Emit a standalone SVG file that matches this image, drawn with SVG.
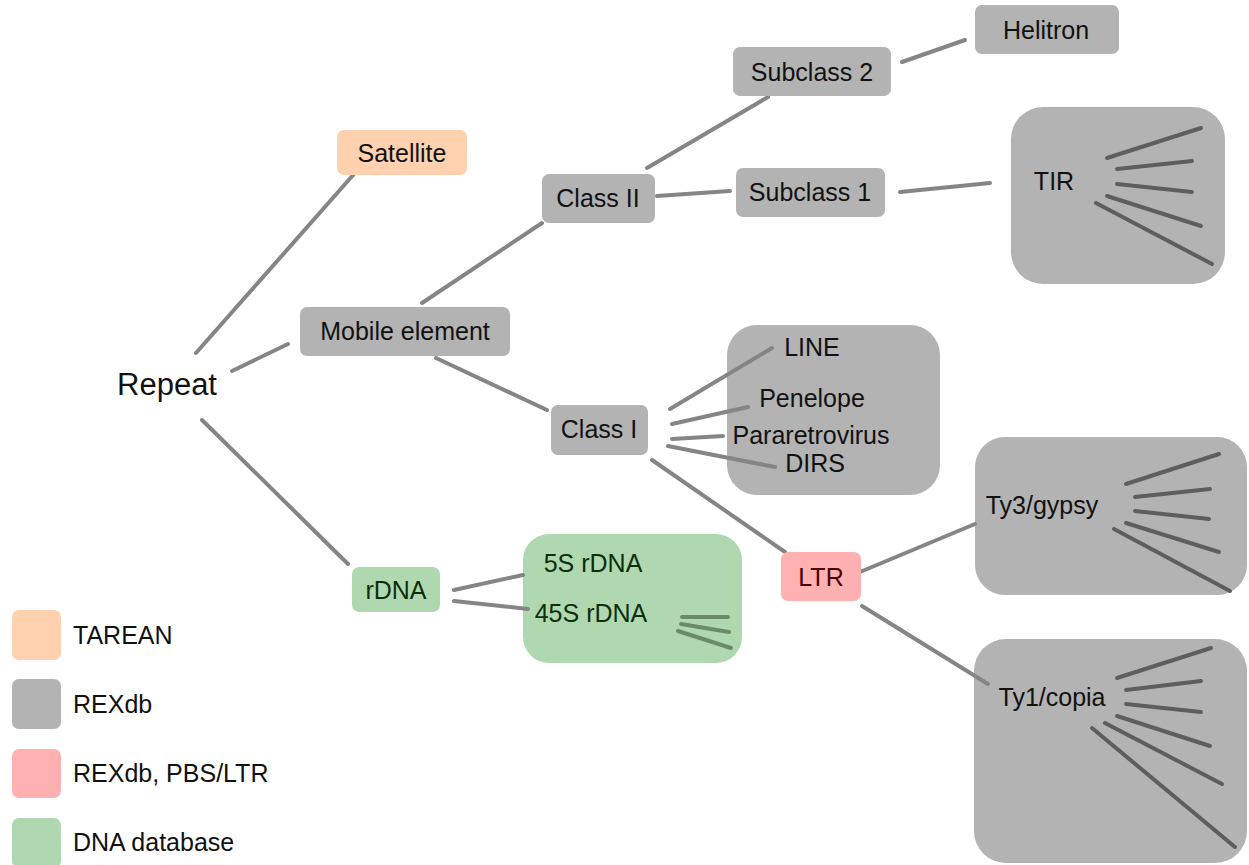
<svg xmlns="http://www.w3.org/2000/svg" width="1249" height="865" viewBox="0 0 1249 865">
<style>
text{font-family:"Liberation Sans",Arial,sans-serif;font-size:25px;fill:#111;text-anchor:middle;dominant-baseline:central}
.grey{fill:#b3b3b3}
.peach{fill:#ffd1ae}
.pink{fill:#ffb0b0}
.green{fill:#b0d8b0}
.gt{fill:#0c2e0c}
.rt{fill:#4a0000}
.lt{text-anchor:start}
#connectors line{stroke:#858585;stroke-width:4;stroke-linecap:round}
.fan line{stroke:#5e5e5e;stroke-width:4;stroke-linecap:round}
</style>
<rect width="1249" height="865" fill="#fff"/>

<g id="tir">
<rect class="grey" x="1011" y="107" width="214" height="177" rx="32"/>
<text x="1054" y="181">TIR</text>
<g class="fan">
<line x1="1107" y1="158" x2="1201" y2="128"/>
<line x1="1117" y1="169" x2="1192" y2="161"/>
<line x1="1117" y1="184" x2="1192" y2="192"/>
<line x1="1107" y1="196" x2="1201" y2="226"/>
<line x1="1096" y1="203" x2="1212" y2="264"/>
</g>
</g>
<g id="classI_group">
<rect class="grey" x="727" y="325" width="213" height="170" rx="30"/>
<text x="812" y="347">LINE</text>
<text x="812" y="398">Penelope</text>
<text x="811" y="435">Pararetrovirus</text>
<text x="815" y="463">DIRS</text>
</g>
<g id="ty3">
<rect class="grey" x="975" y="437" width="272" height="158" rx="30"/>
<text x="1042" y="505">Ty3/gypsy</text>
<g class="fan">
<line x1="1126" y1="484" x2="1219" y2="454"/>
<line x1="1135" y1="497" x2="1210" y2="489"/>
<line x1="1135" y1="511" x2="1209" y2="519"/>
<line x1="1126" y1="523" x2="1219" y2="552"/>
<line x1="1114" y1="529" x2="1230" y2="591"/>
</g>
</g>
<g id="ty1">
<rect class="grey" x="974" y="639" width="273" height="224" rx="32"/>
<text x="1052" y="697">Ty1/copia</text>
<g class="fan">
<line x1="1117" y1="678" x2="1211" y2="648"/>
<line x1="1126" y1="690" x2="1201" y2="681"/>
<line x1="1126" y1="704" x2="1201" y2="712"/>
<line x1="1117" y1="716" x2="1210" y2="746"/>
<line x1="1105" y1="723" x2="1222" y2="784"/>
<line x1="1092" y1="728" x2="1235" y2="847"/>
</g>
</g>
<g id="rdna_group">
<rect class="green" x="523" y="534" width="219" height="129" rx="26"/>
<text class="gt" x="593" y="563">5S rDNA</text>
<text class="gt" x="591" y="613">45S rDNA</text>
<g class="fan">
<line x1="682" y1="617" x2="728" y2="617" style="stroke:#6a8a6a"/>
<line x1="681" y1="624" x2="729" y2="632" style="stroke:#6a8a6a"/>
<line x1="678" y1="631" x2="731" y2="648" style="stroke:#6a8a6a"/>
</g>
</g>

<g id="connectors">
<line x1="196" y1="353" x2="354" y2="174"/>
<line x1="232" y1="371" x2="288" y2="344"/>
<line x1="202" y1="420" x2="348" y2="564"/>
<line x1="422" y1="303" x2="542" y2="223"/>
<line x1="436" y1="358" x2="547" y2="410"/>
<line x1="647" y1="168" x2="768" y2="97"/>
<line x1="657" y1="196" x2="730" y2="191"/>
<line x1="902" y1="62" x2="965" y2="40"/>
<line x1="900" y1="192" x2="990" y2="183"/>
<line x1="670" y1="409" x2="772" y2="348"/>
<line x1="672" y1="424" x2="748" y2="407"/>
<line x1="672" y1="439" x2="723" y2="436"/>
<line x1="668" y1="446" x2="775" y2="467"/>
<line x1="652" y1="460" x2="785" y2="552"/>
<line x1="860" y1="572" x2="975" y2="524"/>
<line x1="862" y1="606" x2="988" y2="684"/>
<line x1="454" y1="590" x2="523" y2="575"/>
<line x1="454" y1="601" x2="528" y2="609"/>
</g>

<g id="repeat"><text x="167" y="384" style="font-size:31px">Repeat</text></g>
<g id="satellite"><rect class="peach" x="337" y="130" width="130" height="45" rx="7"/><text x="402" y="153">Satellite</text></g>
<g id="mobile"><rect class="grey" x="300" y="307" width="210" height="49" rx="7"/><text x="405" y="331">Mobile element</text></g>
<g id="classII"><rect class="grey" x="542" y="174" width="113" height="49" rx="7"/><text x="598" y="198">Class II</text></g>
<g id="subclass2"><rect class="grey" x="733" y="47" width="158" height="49" rx="7"/><text x="812" y="72">Subclass 2</text></g>
<g id="subclass1"><rect class="grey" x="736" y="168" width="149" height="49" rx="7"/><text x="810" y="192">Subclass 1</text></g>
<g id="helitron"><rect class="grey" x="975" y="5" width="144" height="49" rx="7"/><text x="1046" y="30">Helitron</text></g>
<g id="classI"><rect class="grey" x="551" y="405" width="97" height="50" rx="7"/><text x="599" y="429">Class I</text></g>
<g id="ltr"><rect class="pink" x="781" y="552" width="80" height="49" rx="7"/><text class="rt" x="821" y="577">LTR</text></g>
<g id="rdna"><rect class="green" x="352" y="567" width="88" height="45" rx="7"/><text class="gt" x="396" y="590">rDNA</text></g>

<g id="legend">
<rect class="peach" x="12" y="610" width="49" height="50" rx="7"/>
<text class="lt" x="73" y="635">TAREAN</text>
<rect class="grey" x="12" y="679" width="49" height="50" rx="7"/>
<text class="lt" x="73" y="704">REXdb</text>
<rect class="pink" x="12" y="749" width="49" height="49" rx="7"/>
<text class="lt" x="73" y="773">REXdb, PBS/LTR</text>
<rect class="green" x="12" y="818" width="49" height="50" rx="7"/>
<text class="lt" x="73" y="842">DNA database</text>
</g>
</svg>
